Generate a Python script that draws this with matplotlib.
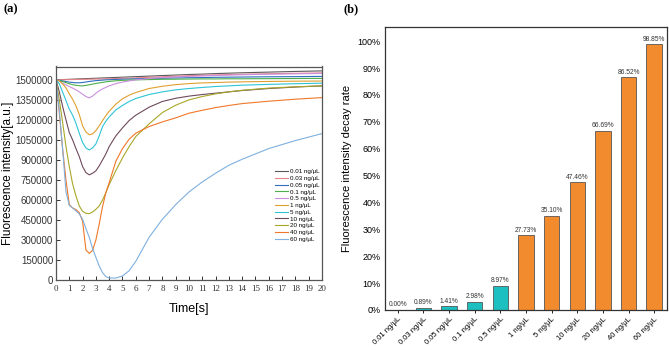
import matplotlib.pyplot as plt
import numpy as np

# ---- panel (a): fluorescence intensity vs time (values in thousands) ----
time_s = [0, 0.25, 0.5, 0.75, 1, 1.25, 1.5, 1.75, 2, 2.25, 2.5, 2.75, 3, 3.25,
          3.5, 3.75, 4, 4.5, 5, 5.5, 6, 7, 8, 9, 10, 11, 12, 13, 14, 16, 18, 20]

conc_labels = ["0.01 ng/μL", "0.03 ng/μL", "0.05 ng/μL", "0.1 ng/μL", "0.5 ng/μL",
               "1 ng/μL", "5 ng/μL", "10 ng/μL", "20 ng/μL", "40 ng/μL", "60 ng/μL"]

int_001 = [1500, 1501, 1502, 1503, 1504, 1505, 1506, 1507, 1508, 1509, 1510, 1511, 1512, 1513,
           1514, 1515, 1516, 1518, 1520, 1522, 1524, 1528, 1532, 1536, 1540, 1543, 1547, 1550,
           1553, 1558, 1563, 1567]
int_003 = [1500, 1500, 1501, 1501, 1502, 1502, 1503, 1503, 1504, 1504, 1505, 1505, 1506, 1506,
           1507, 1507, 1508, 1510, 1512, 1513, 1515, 1519, 1523, 1527, 1531, 1534, 1537, 1540,
           1542, 1546, 1549, 1552]
int_005 = [1500, 1496, 1492, 1487, 1483, 1480, 1478, 1478, 1480, 1484, 1488, 1491, 1494, 1496,
           1498, 1500, 1501, 1503, 1505, 1506, 1508, 1510, 1512, 1514, 1516, 1517, 1519, 1520,
           1521, 1523, 1524, 1526]
int_01 = [1500, 1494, 1487, 1479, 1471, 1464, 1459, 1456, 1455, 1458, 1463, 1468, 1473, 1477,
          1481, 1485, 1488, 1493, 1496, 1498, 1500, 1502, 1504, 1505, 1506, 1507, 1507, 1508,
          1508, 1509, 1510, 1511]
int_05 = [1500, 1490, 1475, 1462, 1450, 1438, 1425, 1410, 1392, 1375, 1365, 1378, 1400, 1418,
          1432, 1444, 1455, 1472, 1483, 1492, 1500, 1510, 1517, 1522, 1526, 1529, 1533, 1535,
          1538, 1542, 1545, 1548]
int_1 = [1500, 1492, 1470, 1440, 1395, 1355, 1305, 1240, 1155, 1110, 1088, 1095, 1120, 1155,
         1195, 1232, 1265, 1318, 1358, 1385, 1405, 1435, 1452, 1464, 1472, 1477, 1480, 1483,
         1485, 1488, 1490, 1491]
int_5 = [1500, 1470, 1408, 1345, 1280, 1235, 1175, 1100, 1030, 990, 975, 990, 1020, 1080,
         1150, 1190, 1222, 1275, 1308, 1338, 1360, 1390, 1410, 1425, 1435, 1443, 1450, 1455,
         1460, 1466, 1471, 1475]
int_10 = [1500, 1410, 1300, 1200, 1105, 1050, 985, 925, 850, 805, 788, 800, 818, 855,
          900, 945, 1000, 1080, 1140, 1195, 1235, 1295, 1338, 1362, 1378, 1390, 1400, 1410,
          1420, 1435, 1446, 1455]
int_20 = [1500, 1350, 1180, 1000, 850, 720, 630, 555, 515, 500, 497, 510, 530, 555,
          600, 655, 715, 820, 915, 1000, 1075, 1170, 1255, 1310, 1350, 1375, 1395, 1410,
          1422, 1438, 1448, 1455]
int_40 = [1500, 1250, 980, 750, 565, 540, 528, 505, 440, 225, 200, 222, 300, 420,
          550, 655, 730, 890, 985, 1055, 1100, 1150, 1185, 1215, 1250, 1272, 1292, 1308,
          1322, 1340, 1355, 1367]
int_60 = [1500, 1270, 980, 660, 560, 540, 518, 495, 455, 385, 320, 235, 170, 105,
          55, 25, 15, 15, 30, 70, 140, 320, 455, 565, 660, 735, 800, 860,
          905, 985, 1045, 1097]

line_colors = ["#5a5a5a", "#e8838a", "#2f6fbf", "#4daf4a", "#c98fdc", "#e0a030",
               "#2ec4d6", "#6e4a5c", "#a8a828", "#f07828", "#7fb0e0"]

# ---- panel (b): decay rate ----
bar_labels = conc_labels
decay_rate = [0.00, 0.89, 1.41, 2.98, 8.97, 27.73, 35.10, 47.46, 66.69, 86.52, 98.85]
bar_colors = ["#1cc0c0"] * 5 + ["#f28a2e"] * 6

plt.rcParams["font.family"] = ["Liberation Sans", "DejaVu Sans"]
serif = ["Liberation Serif", "DejaVu Serif"]

fig = plt.figure(figsize=(6.69, 3.5), dpi=100)

# (a)
ax0 = fig.add_axes([0.0837, 0.20, 0.3976, 0.61])
series = [int_001, int_003, int_005, int_01, int_05, int_1, int_5, int_10, int_20, int_40, int_60]
for vals, lab, col in zip(series, conc_labels, line_colors):
    ax0.plot(time_s, np.array(vals) * 1000, color=col, lw=0.8, label=lab)
ax0.set_xlim(0, 20)
ax0.set_ylim(0, 1600000)
ax0.set_xticks(range(0, 21))
yt = list(range(0, 1500001, 150000))
ax0.set_yticks(yt)
ax0.set_yticklabels([str(v) for v in yt])
ax0.tick_params(direction="in", length=3, width=0.7, colors="#333333")
ax0.tick_params(axis="y", labelsize=7, pad=2)
ax0.tick_params(axis="x", labelsize=6.5)
for lbl in ax0.get_xticklabels():
    lbl.set_family(serif)
ax0.set_xlabel("Time[s]", fontsize=9, labelpad=7)
ax0.set_ylabel("Fluorescence intensity[a.u.]", fontsize=8.5, labelpad=1)
for sp in ax0.spines.values():
    sp.set_color("#555555")
    sp.set_linewidth(0.9)
ax0.legend(loc="upper right", bbox_to_anchor=(0.99, 0.52), frameon=False, fontsize=4.5,
           handlelength=2.0, handletextpad=0.3, labelspacing=0.22, borderaxespad=0,
           borderpad=0)
fig.text(0.005, 0.965, "(a)", fontsize=9, fontweight="bold", family=serif)

# (b)
ax1 = fig.add_axes([0.5755, 0.1143, 0.4215, 0.8086])
xs = np.arange(len(decay_rate))
bars = ax1.bar(xs, decay_rate, width=0.6, color=bar_colors, edgecolor="#555555", linewidth=0.6)
for x, v in zip(xs, decay_rate):
    ax1.text(x, v + 0.6, f"{v:.2f}%", ha="center", va="bottom", fontsize=4.8, color="#333333")
ax1.set_xlim(-0.5, len(decay_rate) - 0.5)
ax1.set_ylim(0, 105.3)
ax1.set_yticks(range(0, 101, 10))
ax1.set_yticklabels([f"{v}%" for v in range(0, 101, 10)])
ax1.set_xticks(xs)
ax1.set_xticklabels(bar_labels, rotation=45, ha="right", rotation_mode="anchor")
ax1.tick_params(axis="y", labelsize=6.5, length=0, pad=3)
ax1.tick_params(axis="x", labelsize=5.5, length=2, width=0.6, pad=2)
ax1.set_ylabel("Fluorescence intensity decay rate", fontsize=8, labelpad=4)
for sp in ax1.spines.values():
    sp.set_color("#333333")
    sp.set_linewidth(0.9)
fig.text(0.513, 0.965, "(b)", fontsize=9, fontweight="bold", family=serif)

fig.savefig("out.png", dpi=100)
